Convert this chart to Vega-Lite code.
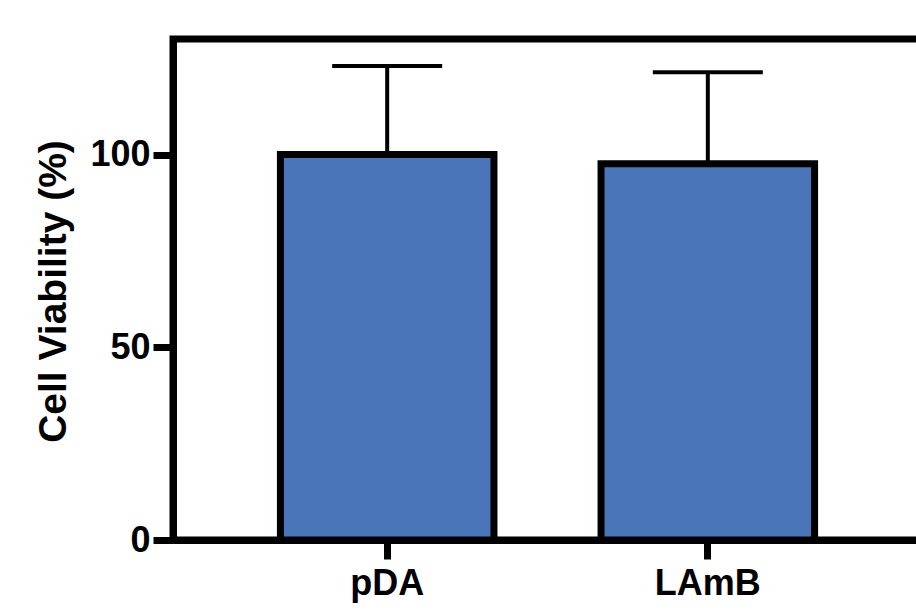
{
  "$schema": "https://vega.github.io/schema/vega-lite/v6.json",
  "autosize": {"type": "none"},
  "padding": {"left": 173, "top": 39, "right": 0, "bottom": 71},
  "width": 749,
  "height": 501,
  "background": "white",
  "data": {"values": [
    {"group": "pDA", "viability": 100, "upper": 123},
    {"group": "LAmB", "viability": 97.6, "upper": 121.4}
  ]},
  "encoding": {
    "x": {
      "field": "group", "type": "nominal", "sort": ["pDA", "LAmB"],
      "scale": {"paddingInner": 0.334, "paddingOuter": 0.335},
      "axis": {
        "title": null, "labelAngle": 0,
        "labelFont": "Liberation Sans", "labelFontSize": 36, "labelFontWeight": "bold", "labelColor": "black",
        "labelPadding": 7, "tickSize": 19, "tickWidth": 7, "tickColor": "black",
        "domainWidth": 7, "domainColor": "black", "grid": false
      }
    }
  },
  "layer": [
    {
      "mark": {"type": "rule", "color": "black", "strokeWidth": 4},
      "encoding": {
        "y": {"field": "viability", "type": "quantitative", "scale": {"domain": [0, 130], "nice": false}, "title": "Cell Viability (%)"},
        "y2": {"field": "upper"}
      }
    },
    {
      "mark": {"type": "tick", "color": "black", "thickness": 4, "size": 110, "opacity": 1},
      "encoding": {
        "y": {"field": "upper", "type": "quantitative", "scale": {"domain": [0, 130], "nice": false}, "title": "Cell Viability (%)"}
      }
    },
    {
      "mark": {"type": "bar", "fill": "#4a75b9", "stroke": "black", "strokeWidth": 7},
      "encoding": {
        "y": {
          "field": "viability", "type": "quantitative",
          "scale": {"domain": [0, 130], "nice": false},
          "title": "Cell Viability (%)",
          "axis": {
            "values": [0, 50, 100], "grid": false,
            "labelFont": "Liberation Sans", "labelFontSize": 36, "labelFontWeight": "bold", "labelColor": "black",
            "labelPadding": 3, "tickSize": 20, "tickWidth": 7, "tickColor": "black",
            "domainWidth": 7, "domainColor": "black",
            "titleFont": "Liberation Sans", "titleFontSize": 39, "titleFontWeight": "bold", "titleColor": "black",
            "titleX": -108, "titleY": 252, "titleBaseline": "alphabetic", "titleAngle": 270, "titleAlign": "center"
          }
        }
      }
    }
  ],
  "config": {"view": {"stroke": "black", "strokeWidth": 7}}
}
